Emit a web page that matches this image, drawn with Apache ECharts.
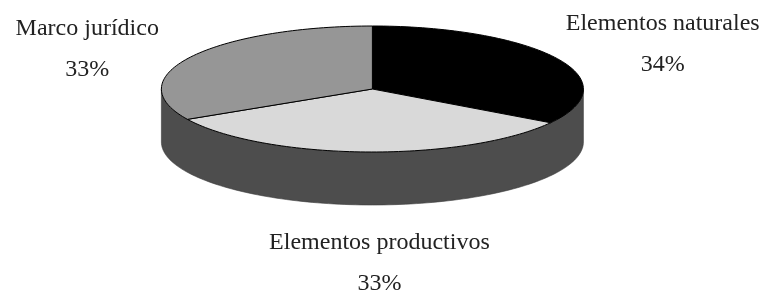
<!DOCTYPE html>
<html>
<head>
<meta charset="utf-8">
<script src="https://cdn.jsdelivr.net/npm/echarts@6/dist/echarts.min.js"></script>
<style>
  html, body { margin: 0; padding: 0; background: #fff; }
  #chart { width: 760px; height: 292px; }
</style>
</head>
<body>
<div id="chart"></div>
<script>
// datos
let categories = ["Elementos naturales", "Elementos productivos", "Marco jurídico"]
let values = [34, 33, 33]
let topColors = ["#000000", "#d9d9d9", "#969696"]

let total = values.reduce((s, v) => s + v, 0)
let starts = []
let acc = 0
values.forEach(v => { starts.push(acc / total * Math.PI * 2); acc += v })

let myChart = echarts.init(document.getElementById("chart"))

// geometría de la elipse (capa de presentación)
function geo(api) {
  let w = api.getWidth()
  return { cx: w * 0.49, cy: 89, rx: 211, ry: 63, depth: 53 }
}
function pt(g, a, dy) {
  return [g.cx + g.rx * Math.sin(a), g.cy - g.ry * Math.cos(a) + (dy || 0)]
}

myChart.setOption({
  animation: false,
  series: [
    {
      // lateral (canto) del pastel
      type: "custom",
      coordinateSystem: "none",
      data: [0],
      silent: true,
      renderItem: (params, api) => {
        let g = geo(api)
        let pts = []
        let n = 120
        for (let i = 0; i <= n; i++) pts.push(pt(g, Math.PI / 2 + Math.PI * i / n, 0))
        for (let i = n; i >= 0; i--) pts.push(pt(g, Math.PI / 2 + Math.PI * i / n, g.depth))
        return {
          type: "polygon",
          shape: { points: pts },
          style: { fill: "#4d4d4d", stroke: "#3a3a3a", lineWidth: 0.6 }
        }
      }
    },
    {
      // cara superior: una porción por categoría
      type: "custom",
      coordinateSystem: "none",
      data: values,
      silent: true,
      renderItem: (params, api) => {
        let g = geo(api)
        let i = params.dataIndex
        let a0 = starts[i]
        let a1 = a0 + values[i] / total * Math.PI * 2
        let pts = [[g.cx, g.cy]]
        let n = 80
        for (let k = 0; k <= n; k++) pts.push(pt(g, a0 + (a1 - a0) * k / n, 0))
        let mid = (a0 + a1) / 2
        let c = Math.cos(mid)
        let s = Math.sin(mid)
        let lx, ly
        if (c >= 0) {
          lx = g.cx + s * g.rx * 1.57
          ly = g.cy - c * g.ry * 1.49 + (s < 0 ? 8 : 0)
        } else {
          lx = g.cx + s * g.rx * 0.3 + 9
          ly = g.cy + g.depth - c * g.ry * 1.92
        }
        let pct = Math.round(values[i] / total * 100) + "%"
        return {
          type: "group",
          children: [
            {
              type: "polygon",
              shape: { points: pts },
              style: { fill: topColors[i], stroke: "#000", lineWidth: 1 }
            },
            {
              type: "text",
              style: {
                text: categories[i] + "\n" + pct,
                x: lx,
                y: ly,
                align: "center",
                verticalAlign: "middle",
                font: '24px "Liberation Serif"',
                lineHeight: 41,
                fill: "#222"
              }
            }
          ]
        }
      }
    }
  ]
})
</script>
</body>
</html>
